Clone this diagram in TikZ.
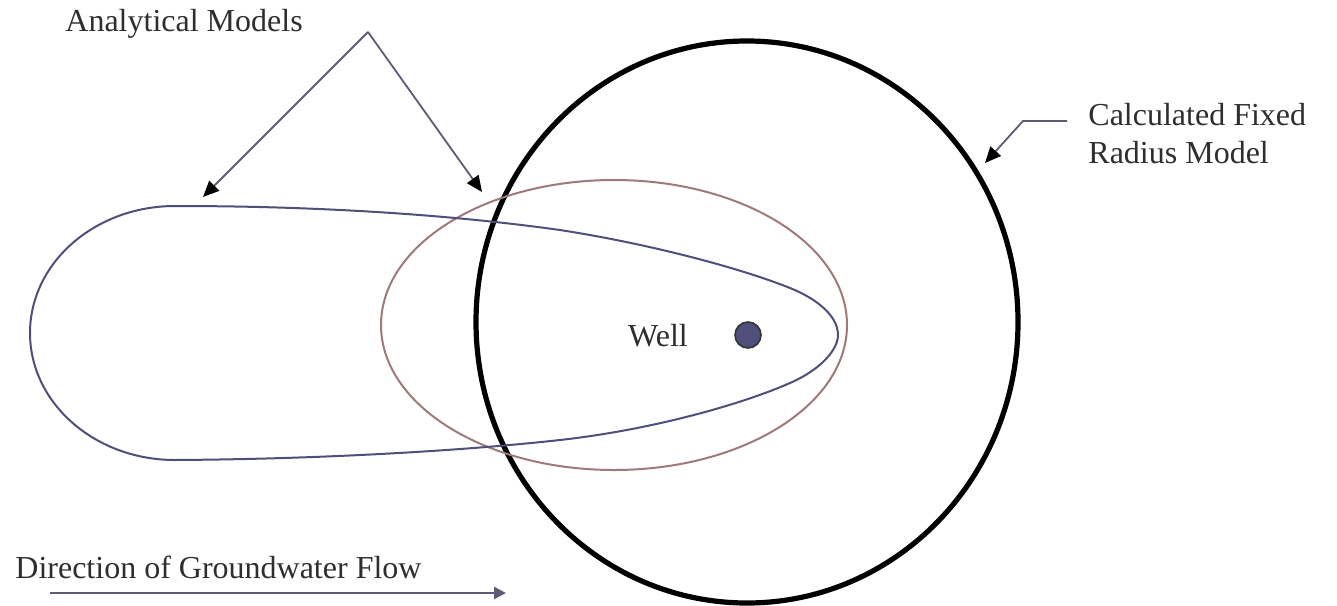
\documentclass[tikz,border=0pt]{standalone}
\usepackage{fontspec}
\setmainfont{Liberation Serif}
\usepackage{xcolor}
\usepackage{tikz}
\usetikzlibrary{arrows.meta,positioning}
\definecolor{CaptureBlue}{HTML}{4E4F7A}
\definecolor{CaptureRed}{HTML}{A07A7A}
\definecolor{LeaderSlate}{HTML}{5C5C78}
\definecolor{LabelInk}{HTML}{2E2E2E}

\begin{document}
\begin{tikzpicture}[
  x=0.5pt, y=-0.5pt,
  labeltext/.style={
    inner sep=0pt,
    text=LabelInk,
    align=left,
    font=\fontsize{16}{19}\selectfont
  },
  leader/.style={-{Triangle[length=8pt,width=7pt,color=black]}, line width=0.9pt, draw=LeaderSlate},
  flowarrow/.style={-{Triangle[length=6pt,width=6pt]}, line width=1.4pt, draw=LeaderSlate},
  plume/.style={draw=CaptureBlue, line width=1pt},
  ellipsezone/.style={draw=CaptureRed, line width=1pt},
  fixedzone/.style={draw=black, line width=2.6pt}
]
\useasboundingbox (0,0) rectangle (1337,605);
% capture zones
\draw[fixedzone] (747,322) ellipse [x radius=271, y radius=281];
\draw[ellipsezone] (614,325) ellipse [x radius=233, y radius=145];
\draw[plume] (175,206) arc[start angle=270, end angle=90, x radius=145, y radius=127]
  .. controls (330,459) and (470,450) .. (560,440)
  .. controls (650,430) and (740,405) .. (790,383)
  .. controls (820,370) and (838,350) .. (838,335)
  .. controls (838,315) and (815,298) .. (790,288)
  .. controls (740,268) and (650,244) .. (560,230)
  .. controls (460,216) and (330,206) .. cycle;
% well
\node[circle, draw=black!80, fill=CaptureBlue, line width=0.8pt, minimum size=13pt, inner sep=0pt] (well) at (748,335) {};
\node[labeltext, anchor=base] (welllabel) at (658,346) {Well};
% labels
\node[labeltext, anchor=base west] (analytic) at (65,32) {Analytical Models};
\node[labeltext, anchor=north west] (fixed) at (1088,103) {Calculated Fixed\\Radius Model};
\node[labeltext, anchor=base west] (flow) at (15,578) {Direction of Groundwater Flow};
% leaders
\coordinate (apex) at (368,32);
\coordinate (plumetop) at (203,197);
\coordinate (ellipsetop) at (482,192);
\coordinate (fixedstart) at (1067,121);
\coordinate (fixedbend) at (1023,121);
\coordinate (fixedtip) at (985,163);
\coordinate (flowstart) at (50,593);
\coordinate (flowend) at (506,593);
\draw[leader] (apex) -- (plumetop);
\draw[leader] (apex) -- (ellipsetop);
\draw[leader] (fixedstart) -- (fixedbend) -- (fixedtip);
\draw[flowarrow] (flowstart) -- (flowend);
\end{tikzpicture}
\end{document}
